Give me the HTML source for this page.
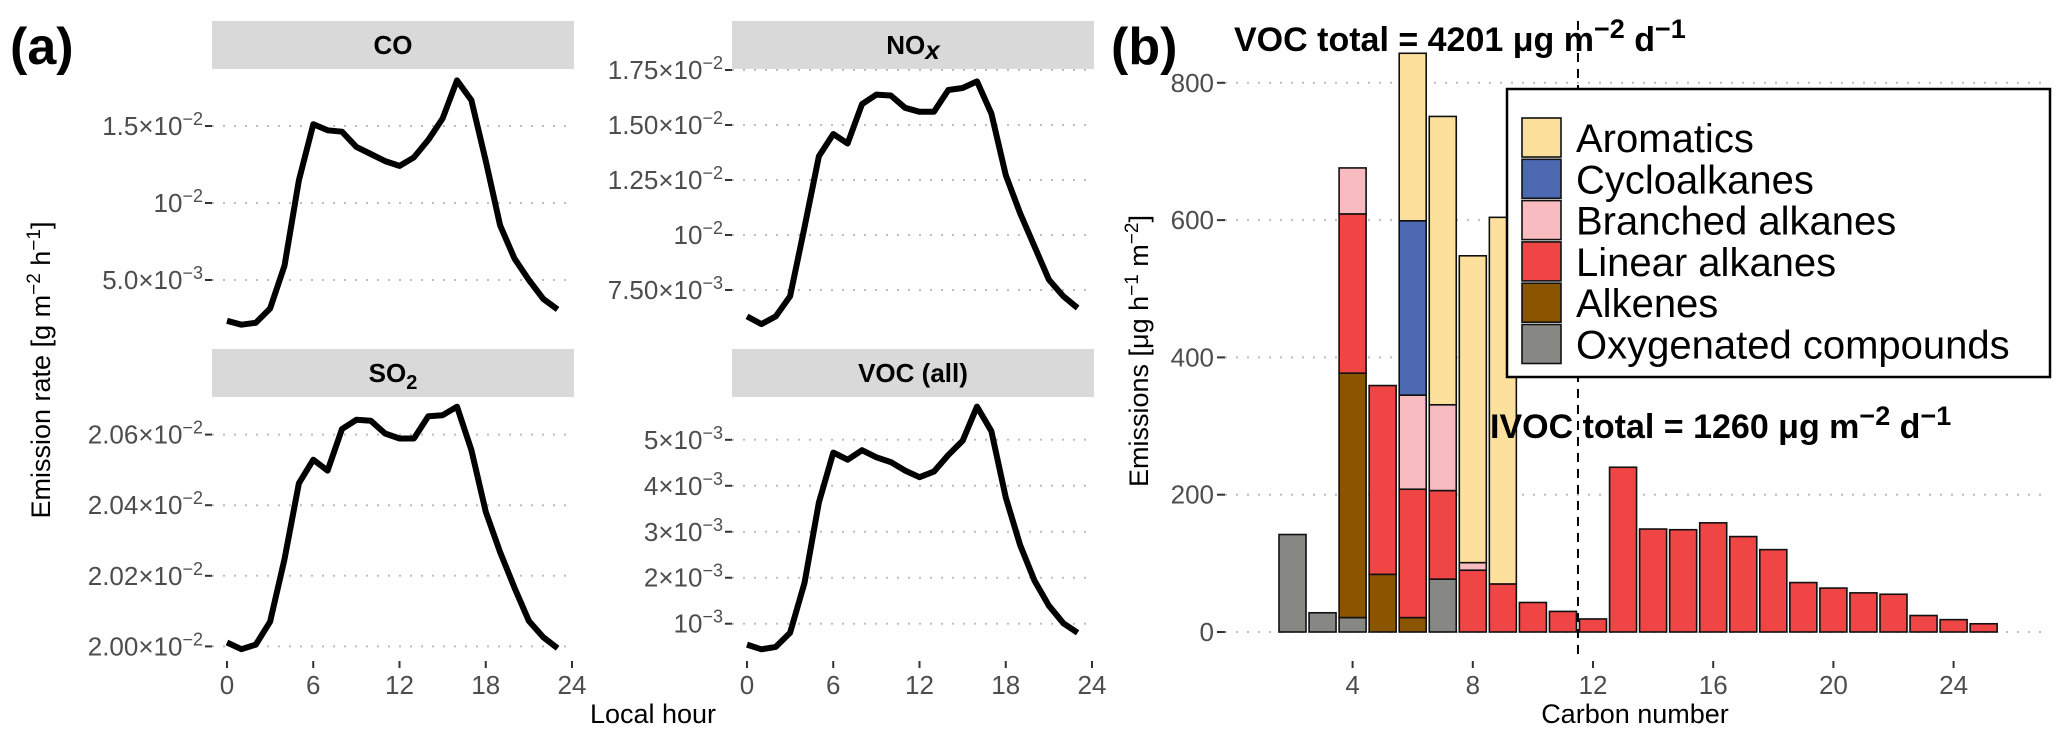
<!DOCTYPE html>
<html><head><meta charset="utf-8"><style>
html,body{margin:0;padding:0;background:#fff;}
svg{display:block;font-family:"Liberation Sans",sans-serif;}
</style></head><body>
<svg id="fig" width="2067" height="743" viewBox="0 0 2067 743" xmlns="http://www.w3.org/2000/svg">
<text x="10" y="64" font-size="52" font-weight="bold">(a)</text>
<text x="1111" y="64" font-size="52" font-weight="bold">(b)</text>
<text transform="translate(50,370) rotate(-90)" text-anchor="middle" font-size="27" fill="#000">Emission rate [g m<tspan dy="-10" font-size="19">−2</tspan><tspan dy="10"> h</tspan><tspan dy="-10" font-size="19">−1</tspan><tspan dy="10">]</tspan></text>
<text x="653" y="723" text-anchor="middle" font-size="27">Local hour</text>
<text transform="translate(1148,351) rotate(-90)" text-anchor="middle" font-size="27">Emissions [μg h<tspan dy="-10" font-size="19">−1</tspan><tspan dy="10">  m</tspan><tspan dy="-10" font-size="19">−2</tspan><tspan dy="10">]</tspan></text>
<text x="1635" y="723" text-anchor="middle" font-size="27">Carbon number</text>
<g id="pa"></g>
<g id="pb"></g>
</svg>
<script>
// ---------- Panel (a) data ----------
const hours = [0,1,2,3,4,5,6,7,8,9,10,11,12,13,14,15,16,17,18,19,20,21,22,23];
const coValues = [0.00235,0.0021,0.00222,0.00315,0.00593,0.01148,0.01512,0.01472,0.01463,0.01364,0.01318,0.01272,0.01241,0.01296,0.0141,0.01549,0.01796,0.01667,0.01272,0.00855,0.00639,0.005,0.00377,0.00309];
const noxValues = [0.0063,0.00595,0.0063,0.00722,0.01035,0.01358,0.01459,0.01416,0.01595,0.01638,0.01634,0.01578,0.0156,0.0156,0.01659,0.01668,0.01698,0.01552,0.01272,0.01099,0.00948,0.00797,0.00722,0.00668];
const so2Values = [0.020011,0.019992,0.020005,0.02007,0.020247,0.020462,0.020529,0.020498,0.020616,0.020642,0.020639,0.020603,0.020589,0.020589,0.020652,0.020655,0.020679,0.020556,0.020381,0.020267,0.020166,0.020072,0.020026,0.019995];
const vocValues = [0.000546,0.000443,0.000495,0.000804,0.001887,0.003639,0.004722,0.004567,0.004773,0.004619,0.004515,0.00433,0.004186,0.004309,0.00467,0.004979,0.005722,0.005186,0.003742,0.002711,0.001938,0.001392,0.00101,0.000804];
const hourTicks = [0,6,12,18,24];
const coTicks = [0.015,0.01,0.005];
const coTickMant = ["1.5×","","5.0×"];
const coTickExp = ["−2","−2","−3"];
const noxTicks = [0.0175,0.015,0.0125,0.01,0.0075];
const noxTickMant = ["1.75×","1.50×","1.25×","","7.50×"];
const noxTickExp = ["−2","−2","−2","−2","−3"];
const so2Ticks = [0.0206,0.0204,0.0202,0.0200];
const so2TickMant = ["2.06×","2.04×","2.02×","2.00×"];
const so2TickExp = ["−2","−2","−2","−2"];
const vocTicks = [0.005,0.004,0.003,0.002,0.001];
const vocTickMant = ["5×","4×","3×","2×",""];
const vocTickExp = ["−3","−3","−3","−3","−3"];

// ---------- Panel (b) data ----------
const carbonNumbers = [2,3,4,5,6,7,8,9,10,11,12,13,14,15,16,17,18,19,20,21,22,23,24,25];
const oxygenated = [142,28,21,0,0,77,0,0,0,0,0,0,0,0,0,0,0,0,0,0,0,0,0,0];
const alkenes    = [0,0,356,84,21,0,0,0,0,0,0,0,0,0,0,0,0,0,0,0,0,0,0,0];
const linear     = [0,0,232,275,187,129,90,70,43,30,19,240,150,149,159,139,120,72,64,57,55,24,18,12];
const branched   = [0,0,67,0,137,125,11,0,0,0,0,0,0,0,0,0,0,0,0,0,0,0,0,0];
const cyclo      = [0,0,0,0,254,0,0,0,0,0,0,0,0,0,0,0,0,0,0,0,0,0,0,0];
const aromatics  = [0,0,0,0,244,420,447,534,0,0,0,0,0,0,0,0,0,0,0,0,0,0,0,0];
const carbonTicks = [4,8,12,16,20,24];
const emissionTicks = [0,200,400,600,800];
const seriesNames = ["Oxygenated compounds","Alkenes","Linear alkanes","Branched alkanes","Cycloalkanes","Aromatics"];
const legendOrder = ["Aromatics","Cycloalkanes","Branched alkanes","Linear alkanes","Alkenes","Oxygenated compounds"];
const vocDivider = 11.5;

const NS = "http://www.w3.org/2000/svg";
function mk(tag, attrs, parent){const e=document.createElementNS(NS,tag);for(const k in attrs)e.setAttribute(k,attrs[k]);parent.appendChild(e);return e;}

// ----- panel (a) -----
const pa = document.getElementById('pa');
const panels = [
 {key:'co',title:'CO',x0:212,stripY:21,top:70,bottom:333,vals:coValues,ticks:coTicks,mant:coTickMant,exp:coTickExp,v1:0.015,p1:126,v2:0.005,p2:280},
 {key:'nox',title:'NOx',x0:732,stripY:21,top:70,bottom:333,vals:noxValues,ticks:noxTicks,mant:noxTickMant,exp:noxTickExp,v1:0.0175,p1:70,v2:0.0075,p2:290},
 {key:'so2',title:'SO2',x0:212,stripY:349,top:395,bottom:658,vals:so2Values,ticks:so2Ticks,mant:so2TickMant,exp:so2TickExp,v1:0.0206,p1:434.6,v2:0.02,p2:646.4},
 {key:'voc',title:'VOC (all)',x0:732,stripY:349,top:395,bottom:658,vals:vocValues,ticks:vocTicks,mant:vocTickMant,exp:vocTickExp,v1:0.005,p1:439.8,v2:0.001,p2:623.7}
];
panels.forEach(p=>{
  const g = mk('g',{},pa);
  
  
  const xs = h => p.x0+15+h*14.375;
  const ys = v => p.p1+(v-p.v1)*(p.p2-p.p1)/(p.v2-p.v1);
  const strip = mk('rect',{x:p.x0,y:p.stripY,width:362,height:48,fill:'#d9d9d9'},g);
  
  
  const st = mk('text',{x:p.x0+181,y:p.stripY+33,'text-anchor':'middle','font-size':26,'font-weight':'bold'},g);
  
  
  if(p.key==='nox'){st.textContent='NO';const t=mk('tspan',{'font-style':'italic',dy:5},st);t.textContent='x';}
  else if(p.key==='so2'){st.textContent='SO';const t=mk('tspan',{dy:7,'font-size':20},st);t.textContent='2';}
  else st.textContent=p.title;
  p.ticks.forEach((tv,i)=>{
    const y=ys(tv);
    const gl=mk('line',{x1:p.x0,x2:p.x0+362,y1:y,y2:y,stroke:'#bdbdbd','stroke-width':2,'stroke-dasharray':'2 9'},g);
    
    
    mk('line',{x1:p.x0-7,x2:p.x0,y1:y,y2:y,stroke:'#333','stroke-width':2},g);
    const tl=mk('text',{x:p.x0-9,y:y+9,'text-anchor':'end','font-size':26,fill:'#4d4d4d'},g);
    
    
    const a=mk('tspan',{},tl);a.textContent=p.mant[i]+'10';
    const b=mk('tspan',{dy:-10,'font-size':18},tl);b.textContent=p.exp[i];
  });
  if(p.stripY>300){
    hourTicks.forEach(h=>{
      const x=xs(h);
      mk('line',{x1:x,x2:x,y1:661,y2:668,stroke:'#333','stroke-width':2},g);
      const tl=mk('text',{x:x,y:694,'text-anchor':'middle','font-size':26,fill:'#4d4d4d'},g);
      
      
      tl.textContent=h;
    });
  }
  const d=p.vals.map((v,i)=>(i?'L':'M')+xs(hours[i]).toFixed(1)+','+ys(v).toFixed(1)).join(' ');
  const ln=mk('path',{d:d,fill:'none',stroke:'#000','stroke-width':6,'stroke-linejoin':'round'},g);
  
  
});

// ----- panel (b) -----
const pb = document.getElementById('pb');
const colors = {"Aromatics":"#fde09c","Cycloalkanes":"#4c68b0","Branched alkanes":"#f8bbbf","Linear alkanes":"#ef4545","Alkenes":"#8b5500","Oxygenated compounds":"#878883"};
const seriesData = [oxygenated,alkenes,linear,branched,cyclo,aromatics];
const bx = c => 1352.6+(c-4)*30.05;
const by = v => 632-v*0.6865;
const PL=1225, PR=2043;
emissionTicks.forEach(t=>{
  const y=by(t);
  const gl=mk('line',{x1:PL,x2:PR,y1:y,y2:y,stroke:'#bdbdbd','stroke-width':2,'stroke-dasharray':'2 9'},pb);
  
  
  mk('line',{x1:PL-8,x2:PL,y1:y,y2:y,stroke:'#333','stroke-width':2},pb);
  const tl=mk('text',{x:PL-11,y:y+9,'text-anchor':'end','font-size':26,fill:'#4d4d4d'},pb);
  
  
  tl.textContent=t;
});
carbonTicks.forEach(c=>{
  const x=bx(c);
  mk('line',{x1:x,x2:x,y1:661,y2:668,stroke:'#333','stroke-width':2},pb);
  const tl=mk('text',{x:x,y:694,'text-anchor':'middle','font-size':26,fill:'#4d4d4d'},pb);
  
  
  tl.textContent=c;
});
const bw=27;
carbonNumbers.forEach((c,i)=>{
  let base=0;
  seriesData.forEach((s,k)=>{
    const v=s[i]; if(!v) return;
    const r=mk('rect',{x:bx(c)-bw/2,y:by(base+v),width:bw,height:by(base)-by(base+v),fill:colors[seriesNames[k]],stroke:'#111','stroke-width':1.6},pb);
    
    
    base+=v;
  });
});
const dl=mk('line',{x1:bx(vocDivider),x2:bx(vocDivider),y1:21,y2:661,stroke:'#000','stroke-width':2,'stroke-dasharray':'9 7'},pb);


function ann(x,y,label,val,name){
  const t=mk('text',{x:x,y:y,'font-size':34,'font-weight':'bold'},pb);
  
  
  const a=mk('tspan',{},t);a.textContent=label+' = '+val+' μg m';
  const b=mk('tspan',{dy:-13,'font-size':27},t);b.textContent='−2';
  const c=mk('tspan',{dy:13},t);c.textContent=' d';
  const d=mk('tspan',{dy:-13,'font-size':27},t);d.textContent='−1';
}
ann(1234,51,'VOC total','4201','voc-total-annotation');
ann(1490,438,'IVOC total','1260','ivoc-total-annotation');
const lg=mk('g',{},pb);


mk('rect',{x:1507,y:89,width:543,height:288,fill:'#fff',stroke:'#000','stroke-width':2.5},lg);
legendOrder.forEach((n,i)=>{
  const y=118+i*41.3;
  const k=mk('rect',{x:1522,y:y,width:39,height:39,fill:colors[n],stroke:'#111','stroke-width':1.6},lg);
  
  
  const t=mk('text',{x:1576,y:y+34,'font-size':40},lg);
  
  
  t.textContent=n;
});
</script>
</body></html>
